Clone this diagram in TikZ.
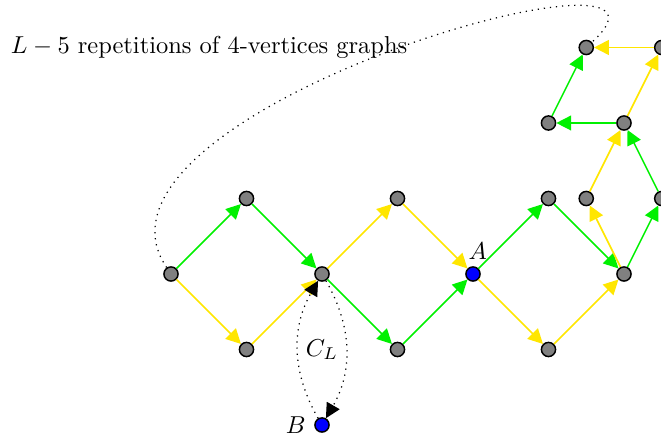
\documentclass[tikz,border=0pt]{standalone}
\usetikzlibrary{arrows.meta}
\definecolor{ylw}{RGB}{255,230,0}
\definecolor{grn}{RGB}{0,240,0}
\begin{document}
\begin{tikzpicture}[x=30.87pt,y=30.87pt,
  vtx/.style={circle,draw=black,line width=0.6pt,fill=gray,inner sep=0pt,minimum size=5.8pt},
  vtxb/.style={vtx,fill=blue},
  tip/.style={-{Triangle[length=6pt,width=6pt]}},
  ge/.style={draw=grn,line width=0.6pt,tip},
  ye/.style={draw=ylw,line width=0.7pt,tip},
  de/.style={dotted,line width=0.5pt,tip}]
\path[use as bounding box] (-2.265,-2.199) rectangle (6.490,3.629);
% vertices
\node[vtx] (n1) at (0,0) {};
\node[vtx] (n2) at (1,1) {};
\node[vtx] (n3) at (1,-1) {};
\node[vtx] (n4) at (2,0) {};
\node[vtx] (n5) at (3,1) {};
\node[vtx] (n6) at (3,-1) {};
\node[vtxb,label={[xshift=2pt,inner sep=2.5pt]above:$A$}] (A) at (4,0) {};
\node[vtx] (n8) at (5,1) {};
\node[vtx] (n9) at (5,-1) {};
\node[vtx] (n10) at (6,0) {};
\node[vtx] (n11) at (5.5,1) {};
\node[vtx] (n12) at (6.5,1) {};
\node[vtx] (n13) at (6,2) {};
\node[vtx] (n14) at (5,2) {};
\node[vtx] (n15) at (5.5,3) {};
\node[vtx] (n16) at (6.5,3) {};
\node[vtxb,label={left:$B$}] (B) at (2,-2) {};
% green edges
\draw[ge] (n1) -- (n2);
\draw[ge] (n2) -- (n4);
\draw[ge] (n4) -- (n6);
\draw[ge] (n6) -- (A);
\draw[ge] (A) -- (n8);
\draw[ge] (n8) -- (n10);
\draw[ge] (n10) -- (n12);
\draw[ge] (n12) -- (n13);
\draw[ge] (n13) -- (n14);
\draw[ge] (n14) -- (n15);
% yellow edges
\draw[ye] (n1) -- (n3);
\draw[ye] (n3) -- (n4);
\draw[ye] (n4) -- (n5);
\draw[ye] (n5) -- (A);
\draw[ye] (A) -- (n9);
\draw[ye] (n9) -- (n10);
\draw[ye] (n10) -- (n11);
\draw[ye] (n11) -- (n13);
\draw[ye] (n13) -- (n16);
\draw[draw=ylw,fill=ylw,line width=0.8pt,{Triangle[length=6pt,width=6pt]}-] (n15) -- (n16);
% C_L loop
\draw[de] (B) to[bend left=30] (n4);
\draw[de] (n4) to[bend left=30] (B);
\node (cl) at (2,-1) {$C_L$};
% repetition curve
\draw[dotted,line width=0.5pt] (n1) .. controls (-1.47,2.17) and (7.27,4.62) .. (n15);
\node[anchor=base west,inner sep=0pt] (rep) at (-2.126,2.923) {$L-5$ repetitions of 4-vertices graphs};
\end{tikzpicture}
\end{document}
